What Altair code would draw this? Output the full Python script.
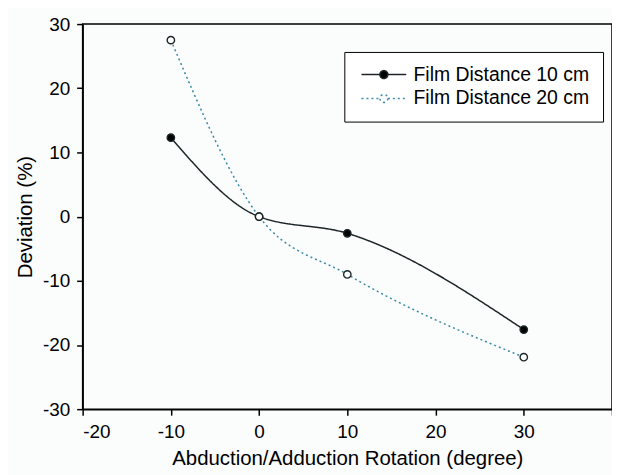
import altair as alt
import pandas as pd

rotation = [-10, 0, 10, 30]
dev_10cm = [12.3, 0.0, -2.6, -17.6]
dev_20cm = [27.5, 0.0, -9.0, -21.9]
series_names = ["Film Distance 10 cm", "Film Distance 20 cm"]
x_ticks = [-20, -10, 0, 10, 20, 30, 40]
y_ticks = [-30, -20, -10, 0, 10, 20, 30]

rows = []
for name, vals in zip(series_names, [dev_10cm, dev_20cm]):
    for x, y in zip(rotation, vals):
        rows.append({"rotation": x, "deviation": y, "series": name})
df = pd.DataFrame(rows)

FONT = "Liberation Sans, Arial"
DARK = "#1c2628"
BLUE = "#3a8aa8"

# legend glyph: line with circle in the middle (unit = 5px for symbolSize 100)
glyph = "M-4.5,0H-0.8M0.8,0H4.5M0.8,0A0.8,0.8 0 1 1 -0.8,0A0.8,0.8 0 1 1 0.8,0Z"

legend = alt.Legend(
    title=None, orient="none", legendX=263, legendY=28,
    symbolType=glyph, symbolSize=100, symbolStrokeWidth=1.5,
    symbolOffset=17, labelOffset=20, labelLimit=400,
    labelFont=FONT, labelFontSize=19.5, labelColor="black",
    strokeColor="black", fillColor="white", padding=13, rowPadding=3,
    cornerRadius=0,
)

x = alt.X("rotation:Q", scale=alt.Scale(domain=[-20, 40], nice=False),
          axis=alt.Axis(values=x_ticks, labelExpr="datum.value == 40 ? '' : '' + datum.value",
                        title="Abduction/Adduction Rotation (degree)", titlePadding=8))
y = alt.Y("deviation:Q", scale=alt.Scale(domain=[-30, 30], nice=False),
          axis=alt.Axis(values=y_ticks, labelExpr="'' + datum.value",
                        title="Deviation (%)", titlePadding=7))

lines = alt.Chart(df).mark_line(interpolate="monotone", strokeWidth=1.5).encode(
    x=x, y=y,
    color=alt.Color("series:N", scale=alt.Scale(domain=series_names, range=[DARK, BLUE]), legend=legend),
    strokeDash=alt.StrokeDash("series:N", scale=alt.Scale(domain=series_names, range=[[1, 0], [2, 3]]), legend=legend),
)

points = alt.Chart(df).mark_point(shape="circle", size=55, strokeWidth=1.4, stroke=DARK, opacity=1).encode(
    x=x, y=y,
    fill=alt.Fill("series:N", scale=alt.Scale(domain=series_names, range=["black", "white"]), legend=legend),
)

chart = alt.layer(lines, points).properties(
    width=532, height=387,
    autosize=alt.AutoSizeParams(type="none"),
    padding={"left": 75, "top": 15, "right": 0, "bottom": 65},
    background="#fbfcfc",
).configure_view(stroke="black", strokeWidth=1.5).configure_axis(
    grid=False, domainColor="black", domainWidth=1.5, tickColor="black", tickWidth=1.5,
    tickSize=6, labelPadding=7, labelFont=FONT, labelFontSize=19, labelColor="black",
    titleFont=FONT, titleFontSize=20.5, titleFontWeight="normal", titleColor="black",
)

chart.save("out.html", embed_options={"renderer": "svg", "actions": False})
